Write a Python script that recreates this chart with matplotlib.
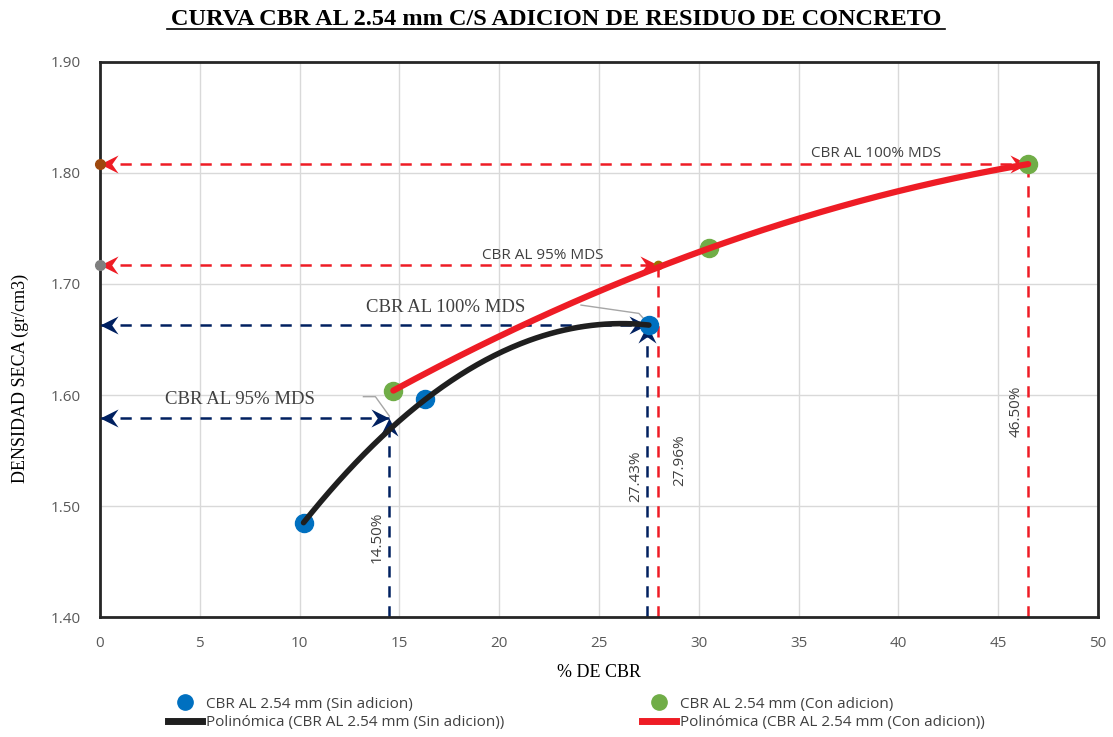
import numpy as np
import matplotlib.pyplot as plt
from matplotlib.path import Path
from matplotlib.lines import Line2D

# data
cbr_sin = [10.2, 16.3, 27.5]
dens_sin = [1.485, 1.596, 1.663]
cbr_con = [14.7, 30.5, 46.5]
dens_con = [1.604, 1.732, 1.808]

# reference values (MDS)
sin_95 = (14.50, 1.579)
sin_100 = (27.43, 1.663)
con_95 = (27.96, 1.717)
con_100 = (46.50, 1.808)

title = "CURVA CBR AL 2.54 mm C/S ADICION DE RESIDUO DE CONCRETO"
lbl_sin = "CBR AL 2.54 mm (Sin adicion)"
lbl_con = "CBR AL 2.54 mm (Con adicion)"
lbl_psin = "Polinómica (CBR AL 2.54 mm (Sin adicion))"
lbl_pcon = "Polinómica (CBR AL 2.54 mm (Con adicion))"

NAVY = '#002060'
RED = '#EE1C25'
BLUE = '#0070C0'
GREEN = '#70AD47'
SANS = 'Open Sans'
SERIF = 'Liberation Serif'

# stealth arrow heads (tip at origin)
def head(direction):
    v = np.array([(0, 0), (-1, 0.5), (-0.65, 0), (-1, -0.5), (0, 0)])
    ang = {'right': 0, 'up': 90, 'left': 180}[direction]
    a = np.deg2rad(ang)
    rot = np.array([[np.cos(a), -np.sin(a)], [np.sin(a), np.cos(a)]])
    v = v @ rot.T
    return Path(v, [Path.MOVETO, Path.LINETO, Path.LINETO, Path.LINETO, Path.CLOSEPOLY])

fig = plt.figure(figsize=(11.13, 7.37), dpi=100)
ax = fig.add_axes([0.0898, 0.1628, 0.8967, 0.7531])
ax.set_xlim(0, 50)
ax.set_ylim(1.40, 1.90)
ax.set_xticks(np.arange(0, 51, 5))
ax.set_yticks(np.arange(1.40, 1.91, 0.10))
ax.yaxis.set_major_formatter(plt.FormatStrFormatter('%.2f'))
ax.grid(True, color='#d9d9d9', linewidth=1)
ax.set_axisbelow(True)
for s in ax.spines.values():
    s.set_linewidth(2)
    s.set_color('#262626')
ax.tick_params(length=0, labelsize=11, labelcolor='#595959')
ax.tick_params(axis='y', pad=14)
ax.tick_params(axis='x', pad=14)
for t in ax.get_xticklabels() + ax.get_yticklabels():
    t.set_fontfamily(SANS)

dash = dict(linestyle=(0, (4.5, 3.5)), linewidth=1.8, zorder=2)
ms = 26

def ref_line(pt, color, up_head):
    x, y = pt
    ax.plot([0, x], [y, y], color=color, **dash)
    ax.plot([x, x], [1.40, y], color=color, **dash)
    ax.plot(0, y, marker=head('left'), ms=ms, color=color, mew=0, clip_on=False, zorder=3)
    ax.plot(x, y, marker=head('right'), ms=ms, color=color, mew=0, zorder=3)
    if up_head:
        ax.plot(x, y, marker=head('up'), ms=ms, color=color, mew=0, zorder=3)

ref_line(sin_95, NAVY, True)
ref_line(sin_100, NAVY, True)
ref_line(con_95, RED, False)
ref_line(con_100, RED, False)

# small markers at the axis and on the 95% point
ax.plot(0, con_100[1], 'o', ms=7, color='#9E480E', clip_on=False, zorder=4)
ax.plot(0, con_95[1], 'o', ms=7, color='#7F7F7F', clip_on=False, zorder=4)
ax.plot(con_95[0], con_95[1], 'o', ms=6, color='#997300', zorder=4)

# data points
ax.plot(cbr_sin, dens_sin, 'o', ms=13, color=BLUE, zorder=5)
ax.plot(cbr_con, dens_con, 'o', ms=13, color=GREEN, zorder=5)

# 2nd order trendlines
xs = np.linspace(min(cbr_sin), max(cbr_sin), 200)
ax.plot(xs, np.polyval(np.polyfit(cbr_sin, dens_sin, 2), xs), color='#1f1f1f', lw=4, solid_capstyle='round', zorder=6)
xc = np.linspace(min(cbr_con), max(cbr_con), 200)
ax.plot(xc, np.polyval(np.polyfit(cbr_con, dens_con, 2), xc), color=RED, lw=4.5, solid_capstyle='round', zorder=6)

# labels
ax.text(38.9, 1.811, "CBR AL 100% MDS", fontsize=11, family=SANS, color='#404040', ha='center', va='bottom')
ax.text(22.2, 1.719, "CBR AL 95% MDS", fontsize=11, family=SANS, color='#404040', ha='center', va='bottom')
ax.text(17.3, 1.671, "CBR AL 100% MDS", fontsize=13.5, family=SERIF, color='#404040', ha='center', va='bottom')
ax.text(7.0, 1.588, "CBR AL 95% MDS", fontsize=13.5, family=SERIF, color='#404040', ha='center', va='bottom')
ax.plot([24.1, 27.0, 27.43], [1.681, 1.6735, 1.665], color='#a6a6a6', lw=1, zorder=4)
ax.plot([13.2, 13.8, 14.5], [1.5985, 1.5985, 1.581], color='#a6a6a6', lw=1, zorder=4)

ax.text(sin_95[0] - 0.6, 1.472, "14.50%", rotation=90, fontsize=11, family=SANS, color='#404040', ha='center', va='center')
ax.text(sin_100[0] - 0.6, 1.527, "27.43%", rotation=90, fontsize=11, family=SANS, color='#404040', ha='center', va='center')
ax.text(con_95[0] + 1.1, 1.541, "27.96%", rotation=90, fontsize=11, family=SANS, color='#404040', ha='center', va='center')
ax.text(con_100[0] - 0.6, 1.585, "46.50%", rotation=90, fontsize=11, family=SANS, color='#404040', ha='center', va='center')

ax.set_xlabel("% DE CBR", fontsize=13, family=SERIF)
ax.xaxis.set_label_coords(0.5, -0.085)
ax.set_ylabel("DENSIDAD SECA (gr/cm3)", fontsize=13, family=SERIF)
ax.yaxis.set_label_coords(-0.071, 0.43)
fig.text(0.5, 0.974, title, fontsize=17.5, family=SERIF, weight='bold', ha='center', va='center')
fig.add_artist(Line2D([0.150, 0.849], [0.960, 0.960], color='black', lw=1.2))

handles = [
    Line2D([], [], marker='o', ls='none', ms=11, color=BLUE),
    Line2D([], [], color='#1f1f1f', lw=5),
    Line2D([], [], marker='o', ls='none', ms=11, color=GREEN),
    Line2D([], [], color=RED, lw=5),
]
leg = fig.legend(handles, [lbl_sin, lbl_psin, lbl_con, lbl_pcon], ncol=2, loc='center',
                 bbox_to_anchor=(0.518, 0.032), frameon=False,
                 columnspacing=9, handlelength=2.2, handletextpad=0.3, labelspacing=0.25,
                 prop={'family': SANS, 'size': 11})
for t in leg.get_texts():
    t.set_color('#404040')

fig.savefig('out.png', dpi=100)
